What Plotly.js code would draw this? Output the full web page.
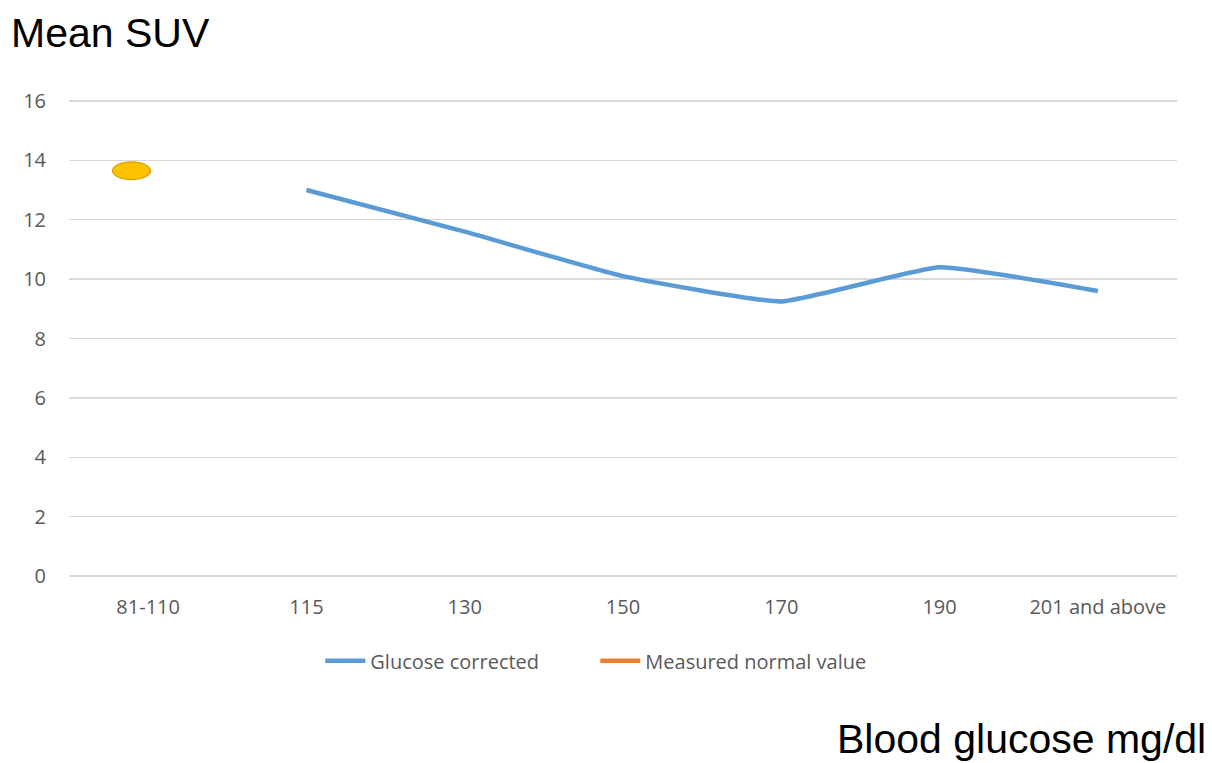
<!DOCTYPE html>
<html>
<head>
<meta charset="utf-8">
<script src="https://cdn.plot.ly/plotly-3.0.1.min.js"></script>
<style>html,body{margin:0;padding:0;background:#fff;}#chart{width:1212px;height:763px;}</style>
</head>
<body>
<div id="chart"></div>
<script>
var categories = ["81-110", "115", "130", "150", "170", "190", "201 and above"];
var glucoseCorrected = [null, 13.0, 11.6, 10.1, 9.25, 10.4, 9.6];
var measuredNormal = [13.65, null, null, null, null, null, null];
var yTicks = [0, 2, 4, 6, 8, 10, 12, 14, 16];

var traces = [
  {
    x: categories, y: glucoseCorrected, type: "scatter", mode: "lines",
    name: "Glucose corrected",
    line: {color: "#5B9BD5", width: 4.5, shape: "spline", smoothing: 0.4},
    connectgaps: false
  },
  {
    x: categories, y: measuredNormal, type: "scatter", mode: "lines",
    name: "Measured normal value",
    line: {color: "#ED7D31", width: 4.5}
  }
];

// ellipse marker for the measured normal value, placed from the data
var shapes = [];
measuredNormal.forEach(function(v, i){
  if (v === null) return;
  shapes.push({
    type: "circle", xref: "x", yref: "y",
    x0: i - 0.225, x1: i + 0.015, y0: v - 0.3, y1: v + 0.3,
    fillcolor: "#FFC000", line: {color: "#D9A300", width: 1.2}
  });
});

var tickFont = {family: "Open Sans, sans-serif", size: 20, color: "#595959"};

var layout = {
  width: 1212, height: 763,
  margin: {l: 69, r: 35, t: 98, b: 184},
  paper_bgcolor: "#fff", plot_bgcolor: "#fff",
  showlegend: true,
  legend: {orientation: "h", x: 0.475, xanchor: "center", y: -0.17, yanchor: "middle",
           font: tickFont, entrywidth: 220, entrywidthmode: "pixels", itemwidth: 40},
  xaxis: {
    type: "category", range: [-0.5, 6.5], showgrid: false, zeroline: false,
    showline: false, ticks: "", ticklabelstandoff: 14, tickfont: tickFont
  },
  yaxis: {
    range: [-0.1, 16.1], tickvals: yTicks, ticktext: yTicks.map(String),
    showgrid: true, gridcolor: "#D9D9D9", gridwidth: 1.3,
    zeroline: false, showline: false, ticks: "", ticklabelstandoff: 22, tickfont: tickFont
  },
  shapes: shapes,
  annotations: [
    {text: "Mean SUV", xref: "paper", yref: "paper", x: -0.054, y: 1.0, xanchor: "left", yanchor: "middle",
     yshift: 65, showarrow: false, font: {family: "Liberation Sans, Arial, sans-serif", size: 41, color: "#000"}},
    {text: "Blood glucose mg/dl", xref: "paper", yref: "paper", x: 1.028, y: 0, xanchor: "right", yanchor: "middle",
     yshift: -160, showarrow: false, font: {family: "Liberation Sans, Arial, sans-serif", size: 41, color: "#000"}}
  ]
};

Plotly.newPlot("chart", traces, layout, {displayModeBar: false, staticPlot: true});
</script>
</body>
</html>
